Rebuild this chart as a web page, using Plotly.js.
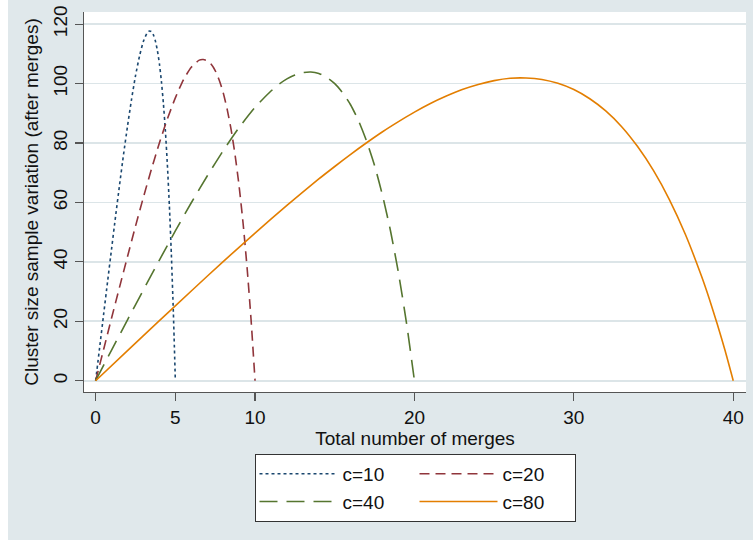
<!DOCTYPE html>
<html>
<head>
<meta charset="utf-8">
<script src="https://cdn.plot.ly/plotly-3.0.1.min.js"></script>
<style>html,body{margin:0;padding:0;background:#fff;}#chart{width:753px;height:540px;}</style>
</head>
<body>
<div id="chart"></div>
<script>
// Values
const seriesNames = ["c=10", "c=20", "c=40", "c=80"];

const x10 = [0, 0.25, 0.5, 0.75, 1, 1.25, 1.5, 1.75, 2, 2.25, 2.5, 2.75, 3, 3.25, 3.375, 3.5, 3.625, 3.75, 3.875, 4, 4.125, 4.25, 4.375, 4.5, 4.625, 4.75, 4.875, 5];
const y10 = [0, 11.1, 22.3, 33.4, 44.4, 55.3, 65.9, 76.1, 85.7, 94.6, 102.6, 109.2, 114.3, 117.2, 117.7, 117.5, 116.4, 114.3, 111.1, 106.7, 100.8, 93.4, 84.1, 72.7, 59.0, 42.6, 23.1, 0];

const x20 = [0, 0.5, 1, 1.5, 2, 2.5, 3, 3.5, 4, 4.5, 5, 5.5, 6, 6.5, 6.75, 7, 7.25, 7.5, 7.75, 8, 8.25, 8.5, 8.75, 9, 9.25, 9.5, 9.75, 10];
const y20 = [0, 10.5, 21.1, 31.5, 41.8, 52.0, 61.8, 71.2, 80.0, 88.1, 95.2, 101.2, 105.5, 107.9, 108.1, 107.7, 106.5, 104.4, 101.2, 97.0, 91.4, 84.5, 75.9, 65.5, 53.0, 38.1, 20.6, 0];

const x40 = [0, 1, 2, 3, 4, 5, 6, 7, 8, 9, 10, 11, 11.5, 12, 12.5, 13, 13.5, 14, 14.5, 15, 15.5, 16, 16.5, 17, 17.5, 18, 18.5, 19, 19.5, 20];
const y40 = [0, 10.3, 20.5, 30.6, 40.6, 50.4, 59.9, 68.9, 77.4, 85.2, 92.0, 97.5, 99.8, 101.6, 102.9, 103.7, 103.9, 103.4, 102.1, 100.0, 96.9, 92.8, 87.4, 80.6, 72.4, 62.3, 50.4, 36.2, 19.5, 0];

const x80 = [0, 2, 4, 6, 8, 10, 12, 14, 15, 16, 17, 18, 19, 20, 21, 22, 23, 24, 25, 26, 27, 28, 29, 30, 31, 32, 33, 34, 35, 36, 37, 38, 38.5, 39, 39.5, 40];
const y80 = [0, 10.1, 20.2, 30.2, 40.1, 49.7, 59.0, 67.9, 72.1, 76.2, 80.1, 83.8, 87.2, 90.4, 93.3, 95.8, 98.0, 99.7, 101.0, 101.8, 101.9, 101.4, 100.1, 98.0, 94.9, 90.8, 85.5, 78.8, 70.7, 60.9, 49.2, 35.3, 27.5, 19.0, 9.9, 0];

const xTickVals = [0, 5, 10, 20, 30, 40];
const yTickVals = [0, 20, 40, 60, 80, 100, 120];

const FONT = "Liberation Sans, Arial, Helvetica, sans-serif";
const mk = (x, y, name, color, dash, group) => ({
  x: x, y: y, name: name, type: "scatter", mode: "lines",
  legendgroup: group,
  line: {color: color, width: 1.6, dash: dash, shape: "spline", smoothing: 0.6},
  hoverinfo: "skip"
});

const data = [
  mk(x10, y10, seriesNames[0], "#1a476f", "3px,3px", "g1"),
  mk(x20, y20, seriesNames[1], "#90353b", "10px,6px", "g2"),
  mk(x40, y40, seriesNames[2], "#55752f", "18px,9px", "g1"),
  mk(x80, y80, seriesNames[3], "#e37e00", "solid", "g2")
];

const layout = {
  width: 753, height: 540,
  margin: {l: 84, r: 7, t: 12, b: 148, pad: 0},
  paper_bgcolor: "#e0e8eb",
  plot_bgcolor: "#ffffff",
  font: {family: FONT, size: 19, color: "#111"},
  showlegend: true,
  xaxis: {
    range: [-0.73, 40.8],
    tickmode: "array", tickvals: xTickVals,
    ticks: "outside", ticklen: 8, tickwidth: 1.2, tickcolor: "#555",
    showline: true, linecolor: "#555", linewidth: 1.2,
    showgrid: false, zeroline: false,
    tickfont: {family: FONT, size: 19, color: "#111"},
    title: {text: "Total number of merges", font: {family: FONT, size: 19, color: "#111"}, standoff: 4}
  },
  yaxis: {
    range: [-3.8, 124.1],
    tickmode: "array", tickvals: yTickVals,
    tickangle: -90,
    ticks: "outside", ticklen: 8, tickwidth: 1.2, tickcolor: "#555",
    showline: true, linecolor: "#555", linewidth: 1.2,
    showgrid: true, gridcolor: "#dce5e8", gridwidth: 1.7,
    zeroline: false,
    tickfont: {family: FONT, size: 19, color: "#111"},
    title: {text: "Cluster size sample variation (after merges)", font: {family: FONT, size: 19, color: "#111"}, standoff: 6}
  },
  legend: {
    orientation: "h", traceorder: "grouped",
    x: 0.5, xanchor: "center", y: -0.163, yanchor: "top",
    bgcolor: "#ffffff", bordercolor: "#333", borderwidth: 1,
    font: {family: FONT, size: 19, color: "#111"},
    itemwidth: 78, entrywidth: 67, entrywidthmode: "pixels",
    tracegroupgap: 0
  },
  shapes: [{
    type: "rect", xref: "paper", yref: "paper", layer: "below",
    x0: -0.1269, x1: -0.1148, y0: -0.39, y1: 1.04,
    fillcolor: "#ffffff", line: {width: 0}
  }]
};

Plotly.newPlot("chart", data, layout, {displayModeBar: false, staticPlot: true});
</script>
</body>
</html>
